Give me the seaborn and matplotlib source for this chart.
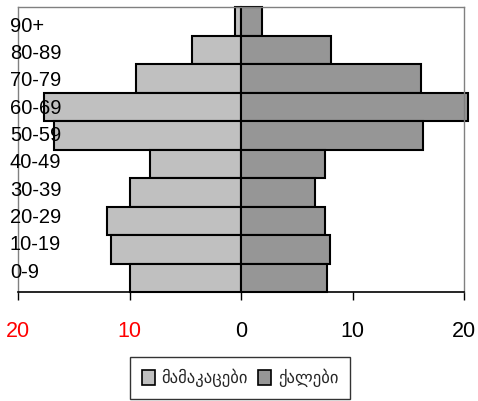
import matplotlib
matplotlib.use("Agg")
import matplotlib.pyplot as plt
import matplotlib.transforms as mtransforms
import seaborn as sns
import pandas as pd
from matplotlib.patches import Patch

age_groups = ["90+", "80-89", "70-79", "60-69", "50-59", "40-49", "30-39", "20-29", "10-19", "0-9"]
males = [0.5, 4.4, 9.4, 17.7, 16.8, 8.2, 10.0, 12.0, 11.7, 10.0]
females = [1.9, 8.1, 16.1, 20.4, 16.3, 7.5, 6.6, 7.5, 8.0, 7.7]
xtick_values = [-20, -10, 0, 10, 20]
xtick_labels = ["20", "10", "0", "10", "20"]
xtick_colors = ["red", "red", "black", "black", "black"]
legend_labels = ["მამაკაცები", "ქალები"]

male_color = "#C0C0C0"
female_color = "#969696"

sns.set_style("white")
plt.rcParams["font.family"] = ["Liberation Sans", "DejaVu Sans"]

fig = plt.figure(figsize=(4.78, 4.01), dpi=100)
ax = fig.add_axes([18/478, 1 - 292/401, (464 - 18)/478, (292 - 7)/401])

df = pd.DataFrame({"age": age_groups, "male": [-m for m in males], "female": females})
sns.barplot(data=df, x="male", y="age", order=age_groups, color=male_color,
            width=1.0, edgecolor="black", linewidth=1.5, ax=ax, saturation=1)
sns.barplot(data=df, x="female", y="age", order=age_groups, color=female_color,
            width=1.0, edgecolor="black", linewidth=1.5, ax=ax, saturation=1)
for p in ax.patches:
    p.set_clip_on(False)

ax.set_xlim(-20, 20)
ax.set_ylim(9.5, -0.5)
ax.set_xlabel("")
ax.set_ylabel("")

ax.set_xticks(xtick_values)
ax.set_xticklabels(xtick_labels, fontsize=15.5)
for lbl, c in zip(ax.get_xticklabels(), xtick_colors):
    lbl.set_color(c)
ax.tick_params(axis="x", direction="out", length=6, width=1, color="black", pad=15, bottom=True)

# category labels drawn on top of the bars
ax.set_yticks(range(len(age_groups)))
ax.set_yticklabels([])
ax.tick_params(axis="y", length=0)
trans = mtransforms.blended_transform_factory(ax.transAxes, ax.transData)
for i, lab in enumerate(age_groups):
    ax.text(-8/446, i * 0.96 + 0.17, lab, transform=trans, ha="left", va="center",
            fontsize=14.5, color="black", zorder=10, clip_on=False)

for s in ["top", "left", "right"]:
    ax.spines[s].set_visible(True)
    ax.spines[s].set_color("#808080")
    ax.spines[s].set_linewidth(1)
ax.spines["bottom"].set_color("black")
ax.spines["bottom"].set_linewidth(1.2)

handles = [Patch(facecolor=male_color, edgecolor="black", linewidth=1.2),
           Patch(facecolor=female_color, edgecolor="black", linewidth=1.2)]
leg = fig.legend(handles, legend_labels, loc="upper center", bbox_to_anchor=(240/478, 1 - 357/401),
                 ncol=2, frameon=True, fancybox=False, edgecolor="black",
                 prop={"family": "DejaVu Sans", "size": 12}, handlelength=0.8, handleheight=1.0,
                 handletextpad=0.4, columnspacing=0.6, borderpad=0.7, borderaxespad=0)
leg.get_frame().set_linewidth(1)

fig.savefig("out.png", dpi=100)
